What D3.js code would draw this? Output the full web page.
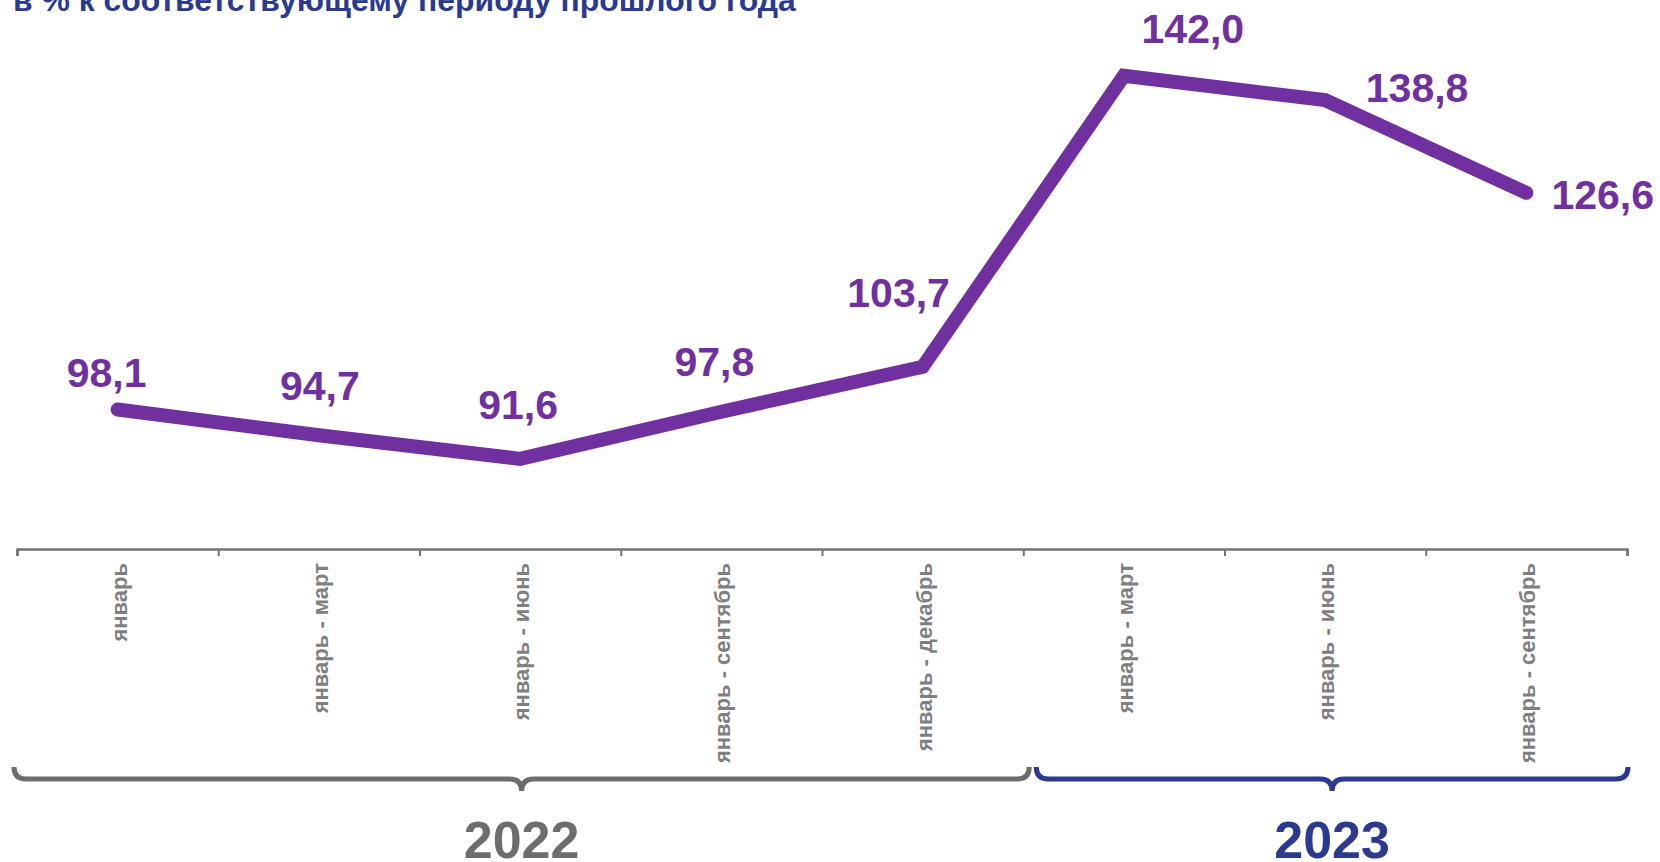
<!DOCTYPE html>
<html lang="ru">
<head>
  <meta charset="UTF-8">
  <title>в % к соответствующему периоду прошлого года</title>
  <style>
    body { margin: 0; background: #fff; }
    svg { display: block; font-family: 'Liberation Sans', Arial, sans-serif; }
  </style>
</head>
<body>
  <svg id="chart" width="1660" height="862"></svg>
  <script src="https://d3js.org/d3.v7.min.js"></script>
  <script>
    // data
    const title = "в % к соответствующему периоду прошлого года";
    const periods = ["январь", "январь - март", "январь - июнь", "январь - сентябрь",
                     "январь - декабрь", "январь - март", "январь - июнь", "январь - сентябрь"];
    const values = [98.1, 94.7, 91.6, 97.8, 103.7, 142.0, 138.8, 126.6];
    const years = ["2022", "2023"];
    const yearStart = [0, 5];   // first period index of each year
    const yearEnd = [5, 8];     // index after last period

    // layout: label nudges (dx from point, dy of baseline), as in the source chart
    const labelNudge = [[-11, -22], [1, -35], [-2, -40], [-7, -36], [-24, -60],
                        [69, -33], [92, 2], [25, 16]];
    const purple = "#7030a0", grey = "#6d6d6d", navy = "#2b3990";

    const svg = d3.select("#chart");
    const idx = d3.range(periods.length);

    const x = d3.scaleBand().domain(idx).range([17, 1627]).padding(0);
    const xEdge = d3.scaleLinear().domain([0, periods.length]).range([17, 1627]);
    const y = d3.scaleLinear().domain([80, 150]).range([547, 15]);
    const axisY = 549;

    // title (top is cut off in the source)
    const t = svg.append("text")
      .attr("x", 13).attr("y", 11)
      .attr("font-size", 30).attr("font-weight", "bold")
      .attr("fill", navy).text(title);
    const tl = t.node().getComputedTextLength();
    t.attr("font-size", 30 * 783 / tl);

    // x axis with ticks on category boundaries
    const axis = svg.append("g")
      .attr("transform", `translate(0,${axisY})`)
      .call(d3.axisBottom(xEdge).ticks(periods.length).tickSize(7).tickSizeOuter(7).tickFormat(""));
    axis.select(".domain").attr("stroke", "#737373").attr("stroke-width", 2.5);
    axis.selectAll(".tick line").attr("stroke", "#737373").attr("stroke-width", 2);

    // rotated category labels
    svg.append("g").selectAll("text")
      .data(idx).join("text")
      .attr("transform", i => `translate(${x(i) + x.bandwidth() / 2 + 9},${axisY + 14}) rotate(-90)`)
      .attr("text-anchor", "end")
      .attr("font-size", 22).attr("font-weight", "bold")
      .attr("fill", "#7f7f7f")
      .text(i => periods[i]);

    // line
    const line = d3.line()
      .x(i => x(i) + x.bandwidth() / 2)
      .y(i => y(values[i]));
    svg.append("path")
      .datum(idx)
      .attr("d", line)
      .attr("fill", "none")
      .attr("stroke", purple)
      .attr("stroke-width", 14)
      .attr("stroke-linecap", "round")
      .attr("stroke-linejoin", "miter");

    // value labels
    const fmt = v => d3.format(".1f")(v).replace(".", ",");
    svg.append("g").selectAll("text")
      .data(idx).join("text")
      .attr("x", i => x(i) + x.bandwidth() / 2 + labelNudge[i][0])
      .attr("y", i => y(values[i]) + labelNudge[i][1])
      .attr("text-anchor", i => i === idx.length - 1 ? "start" : "middle")
      .attr("font-size", 41).attr("font-weight", "bold")
      .attr("fill", purple)
      .text(i => fmt(values[i]));

    // year braces
    const braceY = 779, r = 12;
    const braceColor = [grey, navy];
    const braceX0 = i => xEdge(yearStart[i]) + (i === 0 ? -3 : 13);
    const braceX1 = i => xEdge(yearEnd[i]) + (i === 0 ? 6 : 1);
    years.forEach((yr, i) => {
      const x0 = braceX0(i), x1 = braceX1(i), xm = (x0 + x1) / 2;
      const p = d3.path();
      p.moveTo(x0, braceY - r);
      p.quadraticCurveTo(x0, braceY, x0 + r, braceY);
      p.lineTo(xm - r, braceY);
      p.quadraticCurveTo(xm, braceY, xm, braceY + r);
      p.quadraticCurveTo(xm, braceY, xm + r, braceY);
      p.lineTo(x1 - r, braceY);
      p.quadraticCurveTo(x1, braceY, x1, braceY - r);
      svg.append("path")
        .attr("d", p.toString())
        .attr("fill", "none")
        .attr("stroke", braceColor[i])
        .attr("stroke-width", 5);
      svg.append("text")
        .attr("x", xm).attr("y", 858)
        .attr("text-anchor", "middle")
        .attr("font-size", 52).attr("font-weight", "bold")
        .attr("fill", braceColor[i])
        .text(yr);
    });
  </script>
</body>
</html>
